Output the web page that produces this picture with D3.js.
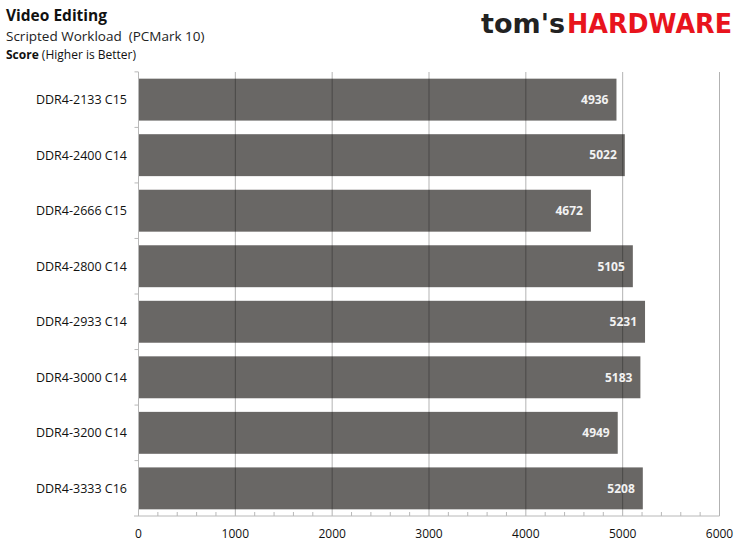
<!DOCTYPE html>
<html><head><meta charset="utf-8">
<script src="https://cdn.jsdelivr.net/npm/d3@7"></script>
<style>body{margin:0;background:#fff}svg{display:block}text{white-space:pre}</style>
</head><body><svg id="c" width="744" height="549"></svg>
<script>
const categories = ["DDR4-2133 C15","DDR4-2400 C14","DDR4-2666 C15","DDR4-2800 C14","DDR4-2933 C14","DDR4-3000 C14","DDR4-3200 C14","DDR4-3333 C16"];
const scores = [4936, 5022, 4672, 5105, 5231, 5183, 4949, 5208];
const xTicks = [0,1000,2000,3000,4000,5000,6000];
const title = "Video Editing";
const subtitle = "Scripted Workload  (PCMark 10)";

const svg = d3.select("#c");
const font = "'Open Sans', 'Noto Sans', sans-serif";
const pL = 138.5, pR = 719.5, pT = 72, pB = 516;
const x = d3.scaleLinear().domain([0,6000]).range([pL,pR]);
const y = d3.scaleBand().domain(categories).range([pT,pB]).paddingInner(0.245).paddingOuter(0.12);

// titles
svg.append("text").attr("x",6).attr("y",21).attr("font-family",font).attr("font-weight","bold").attr("font-size",15.5).attr("fill","#111").text(title);
svg.append("text").attr("x",6).attr("y",41).attr("font-family",font).attr("font-size",13.5).attr("fill","#222").text(subtitle);
const st = svg.append("text").attr("x",6).attr("y",59).attr("font-family",font).attr("font-size",12).attr("fill","#111");
st.append("tspan").attr("font-weight","bold").text("Score");
st.append("tspan").text(" (Higher is Better)");

// logo
const lg = svg.append("text").attr("x",481).attr("y",33).attr("font-family","'DejaVu Sans', sans-serif").attr("font-weight","bold").attr("font-size",26);
lg.append("tspan").attr("fill","#222").attr("textLength",84).attr("lengthAdjust","spacingAndGlyphs").text("tom's");
lg.append("tspan").attr("fill","#e8141d").attr("x",567).attr("textLength",165).attr("lengthAdjust","spacingAndGlyphs").text("HARDWARE");

// bars
svg.append("g").selectAll("rect").data(categories).join("rect")
  .attr("x",x(0)).attr("y",d=>y(d)).attr("height",y.bandwidth())
  .attr("width",(d,i)=>x(scores[i])-x(0)).attr("fill","#696765");

// gridlines
svg.append("g").selectAll("line").data(xTicks.slice(1)).join("line")
  .attr("x1",d=>x(d)).attr("x2",d=>x(d)).attr("y1",pT).attr("y2",pB)
  .attr("stroke","rgba(0,0,0,0.3)").attr("stroke-width",1);

// x axis
const xa = svg.append("g").attr("transform",`translate(0,${pB})`);
xa.append("line").attr("x1",134).attr("x2",pR).attr("stroke","#b8b8b8");
xa.selectAll("line.minor").data(d3.range(200,6000,200).filter(v=>v%1000!==0)).join("line").attr("class","minor")
  .attr("x1",d=>x(d)).attr("x2",d=>x(d)).attr("y1",0).attr("y2",-4).attr("stroke","#b8b8b8");
xa.selectAll("text").data(xTicks).join("text")
  .attr("x",d=>x(d)).attr("y",22).attr("text-anchor","middle")
  .attr("font-family",font).attr("font-size",12).attr("fill","#111").text(d=>d);

// y axis
const ya = svg.append("g");
ya.append("line").attr("x1",pL).attr("x2",pL).attr("y1",pT).attr("y2",pB).attr("stroke","#b8b8b8");
const bounds = d3.range(categories.length).map(i=>y(categories[i]) - y.step()*y.paddingInner()/2);
ya.selectAll("line.tk").data(bounds).join("line").attr("class","tk")
  .attr("x1",pL-4).attr("x2",pL).attr("y1",d=>d).attr("y2",d=>d).attr("stroke","#b8b8b8");
ya.selectAll("text").data(categories).join("text")
  .attr("x",127).attr("y",d=>y(d)+y.bandwidth()/2).attr("dy","0.35em").attr("text-anchor","end")
  .attr("font-family",font).attr("font-size",12.5).attr("fill","#111").text(d=>d);

// value labels
svg.append("g").selectAll("text").data(scores).join("text")
  .attr("x",d=>x(d)-8).attr("y",(d,i)=>y(categories[i])+y.bandwidth()/2).attr("dy","0.36em")
  .attr("text-anchor","end").attr("font-family",font).attr("font-weight","bold").attr("font-size",12)
  .attr("fill","#f2f2f2").text(d=>d);
</script></body></html>
